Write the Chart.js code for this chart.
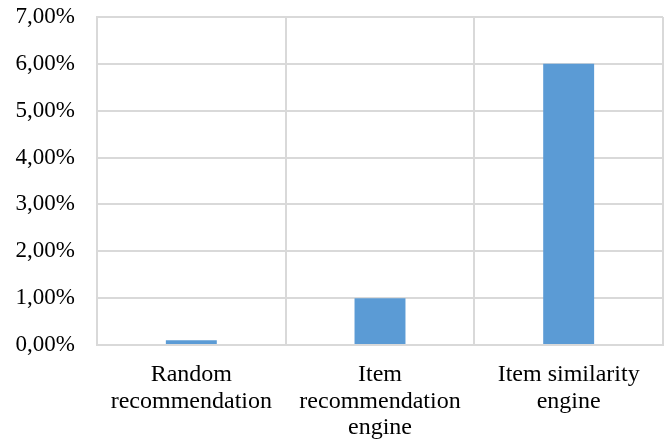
<!DOCTYPE html>
<html>
<head>
<meta charset="utf-8">
<script src="https://cdn.jsdelivr.net/npm/chart.js@4"></script>
<style>
  html, body { margin: 0; padding: 0; background: #fff; }
  #wrap { width: 669px; height: 441px; }
</style>
</head>
<body>
<div id="wrap"><canvas id="myChart" width="669" height="441"></canvas></div>
<script>
// categories (multi-line, as in the picture)
const categories = [
    ['Random', 'recommendation'],
    ['Item', 'recommendation', 'engine'],
    ['Item similarity', 'engine']
];
// values in percent
const values = [0.1, 1.0, 6.0];
// y axis range / step
const y_min = 0;
const y_max = 7;
const y_step = 1;

const grid_color = '#d9d9d9';
const font_family = '"Liberation Serif", "Times New Roman", serif';

function pct_label(v) {
    return v.toFixed(2).replace('.', ',') + '%';
}

function draw_graph() {
    const ctx = document.getElementById('myChart');
    new Chart(ctx, {
        type: 'bar',
        data: {
            labels: categories,
            datasets: [{
                data: values,
                backgroundColor: '#5b9bd5',
                borderWidth: 0,
                barPercentage: 0.27,
                categoryPercentage: 1.0
            }]
        },
        options: {
            responsive: false,
            animation: false,
            layout: { padding: { top: 17, right: 6, bottom: 0, left: 0 } },
            plugins: {
                legend: { display: false },
                tooltip: { enabled: false }
            },
            scales: {
                x: {
                    grid: { color: grid_color, lineWidth: 2, drawTicks: false, offset: true },
                    border: { color: grid_color, width: 2 },
                    ticks: {
                        color: '#000',
                        padding: 16,
                        maxRotation: 0,
                        autoSkip: false,
                        font: { family: font_family, size: 24, lineHeight: 1.12 }
                    },
                    afterFit: function (axis) {
                        axis.height = 96;
                        axis.paddingLeft = 0;
                        axis.paddingRight = 0;
                    }
                },
                y: {
                    min: y_min,
                    max: y_max,
                    grid: { color: grid_color, lineWidth: 2, drawTicks: false },
                    border: { color: grid_color, width: 2 },
                    ticks: {
                        stepSize: y_step,
                        color: '#000',
                        padding: 22,
                        font: { family: font_family, size: 23 },
                        callback: function (v) { return pct_label(v); }
                    },
                    afterFit: function (axis) {
                        axis.width = 97;
                        axis.paddingTop = 0;
                        axis.paddingBottom = 0;
                    }
                }
            }
        }
    });
}
draw_graph();
</script>
</body>
</html>
